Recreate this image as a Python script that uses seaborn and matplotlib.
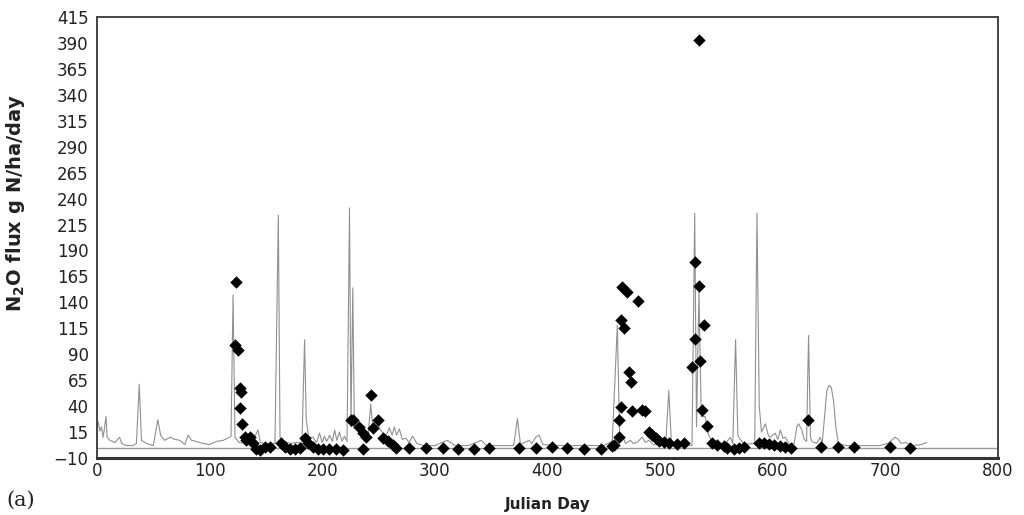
import matplotlib
matplotlib.use("Agg")
import matplotlib.pyplot as plt
import seaborn as sns
import numpy as np

# Simulated N2O flux (thin gray line)
sim_day = [0, 1, 2.5, 4, 5.5, 8, 9, 11.5, 16, 20, 22, 26, 32, 35, 37.5, 39.5, 44, 50, 54, 56.5,
           60, 65, 69, 73.5, 78, 81, 84, 88, 94, 100, 106, 112, 116, 119, 120.8, 122.5, 126, 133, 138, 143,
           145, 152, 158, 161, 162.5, 166, 172, 178, 182, 184.3, 185.8, 188, 191.7, 195, 197.6, 200, 202, 204, 206.5, 209,
           211, 213, 215.3, 217.5, 219.7, 222, 224.2, 225.5, 227.1, 228.5, 231, 235, 239, 241, 243, 245, 249, 253, 256, 259.6,
           262, 264, 266, 268.5, 271, 274.4, 277, 280.3, 284, 290, 300, 311, 318, 330, 341, 346, 360, 370, 373.3, 376,
           383.7, 386, 389.6, 392.5, 396, 410, 430, 450, 457.5, 462, 464, 466.4, 469.3, 473.7, 476, 479.6, 484, 487, 490, 494,
           500, 505, 507.7, 510, 513.6, 520, 528.3, 530.7, 532.3, 534.5, 536.5, 540, 543, 547.6, 552, 558, 562.3, 564.5, 567, 569,
           571.1, 575, 581.5, 584, 586, 588, 590, 593.4, 596, 597.8, 602.2, 604.5, 606.7, 609, 611.1, 615, 619, 621.4, 622.9, 625.8,
           628, 630, 631.8, 633.5, 634.7, 639.1, 642, 644, 646, 648, 650, 652, 654, 656, 658.3, 665, 680, 695, 702, 708.6,
           711.5, 714, 717.4, 725, 732.2, 736.6]
sim_flux = [22, 25, 16, 20, 10, 30, 10, 7, 5, 10, 4, 2, 2, 4, 61, 7, 4, 2, 27, 12,
            7, 10, 8, 7, 3, 12, 7, 6, 4, 3, 6, 7, 9, 11, 147, 10, 5, 4, 6, 17,
            5, 3, 4, 224, 10, 6, 4, 5, 4, 104, 27, 10, 10, 5, 14, 5, 11, 6, 12, 6,
            17, 7, 15, 6, 11, 6, 231, 20, 154, 25, 22, 12, 10, 15, 42, 18, 22, 15, 10, 19,
            12, 20, 12, 18, 8, 9, 5, 11, 4, 2, 2, 7, 2, 2, 7, 2, 2, 2, 28, 3,
            7, 4, 10, 12, 3, 2, 2, 2, 6, 118, 15, 12, 4, 7, 4, 5, 10, 5, 7, 3,
            3, 4, 55, 5, 2, 2, 2, 226, 20, 150, 30, 30, 12, 3, 3, 4, 10, 4, 104, 12,
            8, 3, 4, 4, 226, 40, 15, 23, 12, 10, 14, 8, 17, 9, 10, 3, 4, 20, 23, 17,
            8, 6, 108, 10, 6, 4, 10, 5, 30, 55, 60, 58, 45, 20, 4, 2, 2, 2, 4, 10,
            8, 4, 5, 2, 3, 5]

# Measured N2O flux (black diamonds)
obs_day = [122.3, 123.8, 125.2, 126.7, 128.2, 126.7, 129.1, 131.1, 132.6, 135.6, 138.5, 141.5, 144.4, 148.9, 153.3,
           163.7, 166.6, 171, 175.4, 179.9, 184.3, 187.2, 191.6, 196, 200.5, 206.4, 212.4, 218.2,
           225.7, 227.1, 233, 235.9, 239, 235.9, 243.4, 244.8, 249.2, 253.7, 258.1, 262.5, 265.5,
           277.3, 292.1, 306.8, 320.1, 334.9, 348.2, 374.8, 389.6, 404.3, 417.6, 432.4, 447.2,
           457.5, 459, 463.4, 463.4, 464.9, 464.9, 467.8, 466.3, 470.8, 480.5, 472.3, 473.7, 475.2, 484, 487,
           490, 492.9, 495.9, 498.8, 503.3, 507.7, 515.1, 521,
           528.4, 531.3, 534.3, 531.3, 538.6, 535.7, 537.2, 541.6, 546.1, 550.5, 556.4, 559.4, 565.3, 569.7, 574.2,
           534.3, 587.5, 591.9, 596.3, 600.8, 606.7, 611.1, 616.4, 631, 643, 658.3, 672.5, 704.1, 721.8]
obs_flux = [99, 160, 94, 57, 54, 38, 23, 10.5, 7, 10, 4, -1, -2, 1, 1,
            4, 1, -1, -1, 0, 9, 4, 1, -1, -1, -1, -1, -2,
            27, 27, 20, 14, 10.5, -1, 51, 19, 27, 9, 6, 2.5, 0,
            0, 0, 0, -1, -1, 0, 0, 0, 1, 0, -1, -1,
            1.5, 2.5, 10.5, 26.6, 39, 123, 115, 155, 150, 141, 73, 63.5, 35, 36, 35,
            15, 12, 9, 6.7, 5, 4, 3.5, 4,
            78, 179, 156, 105, 118, 83, 36, 21, 4, 2.5, 1.6, 0, -1, 0, 1,
            393, 4, 4, 3.5, 2.5, 1.6, 0.3, -0.6, 26.6, 0.3, 0.3, 0.3, 0.3, -0.6]

y_ticks = list(range(-10, 416, 25))
x_ticks = list(range(0, 801, 100))

sns.set_theme(style="white")
plt.rcParams['font.family'] = ['DejaVu Sans']

fig = plt.figure(figsize=(10.24, 5.15), dpi=100)
ax = fig.add_axes([97 / 1024, 1 - 458 / 515, (998 - 97) / 1024, (458 - 17) / 515])

ax.axhline(0, color='#9a9a9a', lw=1.0, zorder=1)
sns.lineplot(x=sim_day, y=sim_flux, ax=ax, color='#909090', lw=0.8, estimator=None, sort=False, zorder=2)
sns.scatterplot(x=obs_day, y=obs_flux, ax=ax, marker='D', s=36, color='black', edgecolor='black',
                linewidth=0.3, zorder=3)

ax.set_xlim(0, 800)
ax.set_ylim(-10, 415)
ax.set_xticks(x_ticks)
ax.set_yticks(y_ticks)
ax.tick_params(axis='y', direction='out', length=4, width=1, color='#555', labelsize=12, pad=2,
               labelcolor='#222')
ax.tick_params(axis='x', direction='in', length=3, width=1, color='#555', labelsize=12, pad=3,
               labelcolor='#222')

for side in ['left', 'top', 'right']:
    ax.spines[side].set_color('#444')
    ax.spines[side].set_linewidth(1.4)
    ax.spines[side].set_visible(True)
ax.spines['bottom'].set_color('#333')
ax.spines['bottom'].set_linewidth(2.2)

ax.set_xlabel('Julian Day', fontsize=11, fontweight='bold', color='#222', labelpad=12)
ax.set_ylabel(r'N$_\mathbf{2}$O flux g N/ha/day', fontsize=14, fontweight='bold', color='#222')
ax.yaxis.set_label_coords(-0.078, 0.578)

fig.text(0.006, 0.018, '(a)', fontsize=15, family='DejaVu Serif', color='#222')

fig.savefig('out.png', dpi=100)
